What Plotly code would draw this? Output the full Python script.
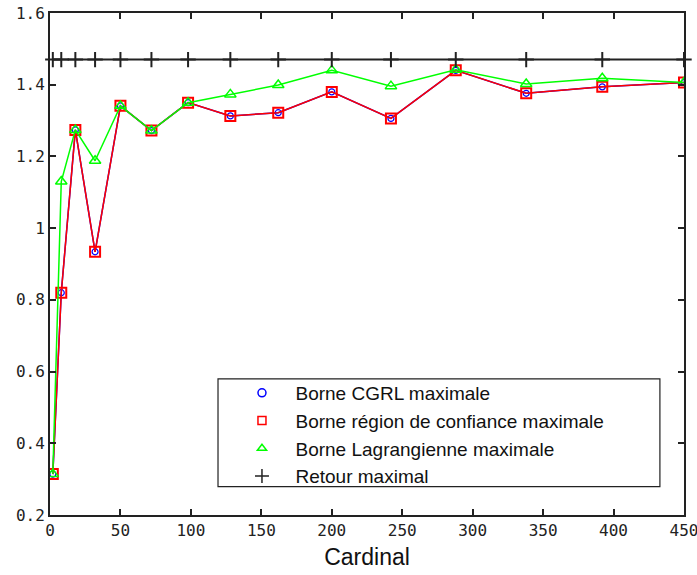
import plotly.graph_objects as go

cardinal = [2, 8, 18, 32, 50, 72, 98, 128, 162, 200, 242, 288, 338, 392, 450]
borne_cgrl = [0.314, 0.82, 1.274, 0.934, 1.341, 1.272, 1.35, 1.313, 1.322, 1.380, 1.306, 1.440, 1.376, 1.394, 1.406]
borne_region = [0.314, 0.82, 1.274, 0.934, 1.341, 1.272, 1.35, 1.313, 1.322, 1.380, 1.306, 1.440, 1.376, 1.394, 1.406]
borne_lagrange = [0.314, 1.13, 1.274, 1.188, 1.341, 1.272, 1.35, 1.373, 1.399, 1.440, 1.396, 1.442, 1.402, 1.418, 1.406]
retour_max = [1.47, 1.47, 1.47, 1.47, 1.47, 1.47, 1.47, 1.47, 1.47, 1.47, 1.47, 1.47, 1.47, 1.47, 1.47]

names = ["Borne CGRL maximale", "Borne région de confiance maximale",
         "Borne Lagrangienne maximale", "Retour maximal"]
y_ticks = [0.2, 0.4, 0.6, 0.8, 1.0, 1.2, 1.4, 1.6]
y_ticktext = ["0.2", "0.4", "0.6", "0.8", "1", "1.2", "1.4", "1.6"]
x_ticks = [0, 50, 100, 150, 200, 250, 300, 350, 400, 450]

fig = go.Figure()

fig.add_trace(go.Scatter(x=cardinal, y=borne_cgrl, mode="lines+markers",
                         line=dict(color="#0000ff", width=1.5),
                         marker=dict(symbol="circle-open", size=6, color="#0000ff", line=dict(width=1.2)),
                         showlegend=False))
fig.add_trace(go.Scatter(x=cardinal, y=borne_region, mode="lines+markers",
                         line=dict(color="#ff0000", width=1.5),
                         marker=dict(symbol="square-open", size=10, color="#ff0000", line=dict(width=2)),
                         showlegend=False))
fig.add_trace(go.Scatter(x=cardinal, y=borne_lagrange, mode="lines+markers",
                         line=dict(color="#00ff00", width=1.5),
                         marker=dict(symbol="triangle-up-open", size=10, color="#00ff00", line=dict(width=1.5)),
                         showlegend=False))
fig.add_trace(go.Scatter(x=cardinal, y=retour_max, mode="lines+markers",
                         line=dict(color="#222222", width=2),
                         marker=dict(symbol="cross-thin-open", size=11, color="#222222", line=dict(width=2, color="#222222")),
                         showlegend=False, cliponaxis=False))

# legend-only entries (markers only, as in the reference legend)
leg_styles = [
    dict(symbol="circle-open", size=8, color="#0000ff", line=dict(width=1.5, color="#0000ff")),
    dict(symbol="square-open", size=8, color="#ff0000", line=dict(width=1.5, color="#ff0000")),
    dict(symbol="triangle-up-open", size=8, color="#00ff00", line=dict(width=1.5, color="#00ff00")),
    dict(symbol="cross-thin-open", size=10, color="#222222", line=dict(width=1.5, color="#222222")),
]
for nm, st in zip(names, leg_styles):
    fig.add_trace(go.Scatter(x=[None], y=[None], mode="markers", name=nm, marker=st, showlegend=True))

axis_common = dict(showline=True, linecolor="#222222", linewidth=2, mirror="ticks",
                   ticks="inside", ticklen=6, tickwidth=2, tickcolor="#222222",
                   showgrid=False, zeroline=False, automargin=False,
                   ticklabeloverflow="allow",
                   tickfont=dict(family="DejaVu Sans Mono", size=16, color="#222222"))

fig.update_xaxes(range=[0, 450], tickvals=x_ticks, **axis_common,
                 title=dict(text="Cardinal", font=dict(family="Liberation Sans, Arial", size=23, color="#111111"),
                            standoff=10))
fig.update_yaxes(range=[0.2, 1.6], tickvals=y_ticks, ticktext=y_ticktext, **axis_common)

fig.add_shape(type="rect", xref="paper", yref="paper", x0=0.265, x1=0.962, y0=0.0564, y1=0.271,
              line=dict(color="#222222", width=1.2), fillcolor="rgba(0,0,0,0)", layer="above")

fig.update_layout(
    width=697, height=575,
    margin=dict(l=50, r=13, t=13, b=60),
    plot_bgcolor="white", paper_bgcolor="white",
    legend=dict(x=0.2815, y=0.281, xanchor="left", yanchor="top",
                bgcolor="rgba(0,0,0,0)", borderwidth=0,
                font=dict(family="Liberation Sans, Arial", size=19, color="#111111"),
                itemwidth=57, tracegroupgap=0),
)

fig.write_html("out.html", config={"displayModeBar": False},
               post_script="document.body.style.margin='0px';")
